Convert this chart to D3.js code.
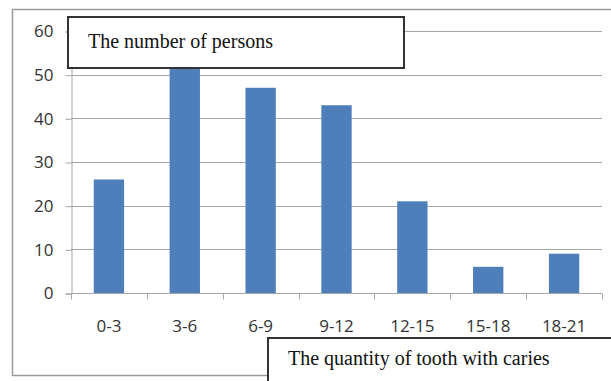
<!DOCTYPE html>
<html>
<head>
<meta charset="utf-8">
<script src="https://cdn.jsdelivr.net/npm/d3@7/dist/d3.min.js"></script>
<style>
  html, body { margin: 0; padding: 0; background: #fff; }
  svg { display: block; }
</style>
</head>
<body>
<svg id="chart" width="611" height="381"></svg>
<script>
// Caries count groups and the number of persons in each
const categories = ["0-3", "3-6", "6-9", "9-12", "12-15", "15-18", "18-21"];
const persons = [26, 52, 47, 43, 21, 6, 9];
const yTicks = [0, 10, 20, 30, 40, 50, 60];
const yTitle = "The number of persons";
const xTitle = "The quantity of tooth with caries";

const svg = d3.select("#chart");
const plot = { left: 71, right: 602, top: 31, bottom: 293 };
const labelFont = "'Open Sans', 'Liberation Sans', sans-serif";

const x = d3.scaleBand()
  .domain(categories)
  .range([plot.left, plot.right])
  .paddingInner(0.6)
  .paddingOuter(0.3);

const y = d3.scaleLinear()
  .domain([0, 60])
  .range([plot.bottom, plot.top]);

// outer chart frame
svg.append("path")
  .attr("d", `M12.5,376 V9.5 H611`)
  .attr("fill", "none")
  .attr("stroke", "#9a9a9a")
  .attr("stroke-width", 1.5);
svg.append("line")
  .attr("x1", 12).attr("x2", 268)
  .attr("y1", 375.5).attr("y2", 375.5)
  .attr("stroke", "#9a9a9a").attr("stroke-width", 1.5);

// horizontal gridlines
svg.append("g")
  .selectAll("line")
  .data(yTicks.filter(d => d > 0))
  .join("line")
  .attr("x1", plot.left).attr("x2", plot.right)
  .attr("y1", d => Math.round(y(d)) + 0.5)
  .attr("y2", d => Math.round(y(d)) + 0.5)
  .attr("stroke", "#a6a6a6")
  .attr("stroke-width", 1);

// y axis
const yAxis = svg.append("g")
  .attr("transform", `translate(${plot.left + 0.5},0.5)`)
  .call(d3.axisLeft(y).tickValues(yTicks).tickSize(6).tickPadding(12).tickFormat(d3.format("d")));
yAxis.attr("font-size", null).attr("font-family", null);
yAxis.select(".domain").attr("stroke", "#a6a6a6");
yAxis.selectAll(".tick line").attr("stroke", "#a6a6a6");
yAxis.selectAll("text")
  .style("font-family", labelFont)
  .style("font-size", "17px")
  .attr("fill", "#333");

// bars
svg.append("g")
  .selectAll("rect")
  .data(persons)
  .join("rect")
  .attr("x", (d, i) => x(categories[i]))
  .attr("y", d => y(d))
  .attr("width", x.bandwidth())
  .attr("height", d => y(0) - y(d))
  .attr("fill", "#4f7fba");

// x axis with ticks on category boundaries
const xAxis = svg.append("g")
  .attr("transform", `translate(0,${Math.round(plot.bottom) + 0.5})`);
xAxis.append("line")
  .attr("x1", plot.left).attr("x2", plot.right)
  .attr("stroke", "#a6a6a6");
const bounds = d3.range(categories.length + 1).map(i => plot.left + i * x.step());
xAxis.selectAll("line.tk")
  .data(bounds)
  .join("line")
  .attr("class", "tk")
  .attr("x1", d => Math.round(d) + 0.5).attr("x2", d => Math.round(d) + 0.5)
  .attr("y1", 0).attr("y2", 6)
  .attr("stroke", "#a6a6a6");
xAxis.selectAll("text")
  .data(categories)
  .join("text")
  .attr("x", d => x(d) + x.bandwidth() / 2)
  .attr("y", 38)
  .attr("text-anchor", "middle")
  .style("font-family", labelFont)
  .style("font-size", "17px")
  .attr("fill", "#333")
  .text(d => d);

// y axis title box
svg.append("rect")
  .attr("x", 68).attr("y", 17)
  .attr("width", 336).attr("height", 51)
  .attr("fill", "#fff")
  .attr("stroke", "#333").attr("stroke-width", 2);
svg.append("text")
  .attr("x", 88).attr("y", 48)
  .attr("font-family", "'Liberation Serif', 'Times New Roman', serif")
  .attr("font-size", 20)
  .attr("fill", "#111")
  .text(yTitle);

// x axis title box
svg.append("rect")
  .attr("x", 268).attr("y", 338)
  .attr("width", 360).attr("height", 60)
  .attr("fill", "#fff")
  .attr("stroke", "#333").attr("stroke-width", 2);
svg.append("text")
  .attr("x", 288).attr("y", 365)
  .attr("font-family", "'Liberation Serif', 'Times New Roman', serif")
  .attr("font-size", 20)
  .attr("fill", "#111")
  .text(xTitle);
</script>
</body>
</html>
